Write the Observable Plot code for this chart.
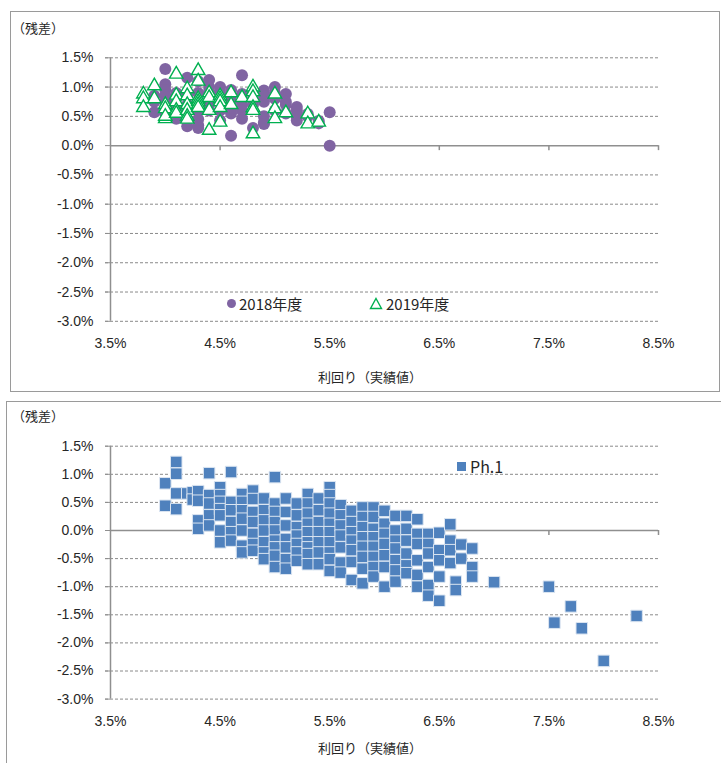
<!DOCTYPE html>
<html>
<head>
<meta charset="utf-8">
<script src="https://cdn.jsdelivr.net/npm/d3@7"></script>
<script src="https://cdn.jsdelivr.net/npm/@observablehq/plot@0.6"></script>
<style>
  body { margin: 0; background: #fff; }
  #wrap { position: relative; width: 721px; height: 763px; overflow: hidden; background: #fff; font-family: "Noto Sans CJK JP", "Noto Sans", sans-serif; color: #262626; }
  .panel { position: absolute; border: 1.5px solid #9a9a9a; box-sizing: border-box; }
  .abs { position: absolute; white-space: nowrap; }
  .chart { position: absolute; left: 0; }
  .ylab { font-size: 13px; }
  .xlab { font-size: 13px; transform: translateX(-50%); }
  .leg { font-size: 15px; display: flex; align-items: center; }
</style>
</head>
<body>
<div id="wrap">
  <div class="panel" style="left:10px;top:11px;width:710px;height:381px;"></div>
  <div class="panel" style="left:6px;top:401px;width:740px;height:400px;"></div>
  <div id="c1" class="chart" style="top:0px;"></div>
  <div id="c2" class="chart" style="top:390px;"></div>
  <div class="abs ylab" style="left:12px;top:18px;">（残差）</div>
  <div class="abs ylab" style="left:12px;top:406px;">（残差）</div>
  <div class="abs xlab" style="left:370px;top:367px;">利回り（実績値）</div>
  <div class="abs xlab" style="left:370px;top:738px;">利回り（実績値）</div>
  <div class="abs leg" style="left:226px;top:293px;">
    <svg width="11" height="11" style="margin-right:2px"><circle cx="5.5" cy="5.5" r="4.5" fill="#8064A2"/></svg><span>2018年度</span>
  </div>
  <div class="abs leg" style="left:369px;top:293px;">
    <svg width="14" height="13" style="margin-right:3px"><path d="M7,1.5 L12.5,11.5 L1.5,11.5 Z" fill="none" stroke="#00B050" stroke-width="1.4"/></svg><span>2019年度</span>
  </div>
  <div class="abs leg" style="left:456px;top:454px;font-size:16px;">
    <svg width="11" height="11" style="margin-right:3px"><rect x="1" y="1" width="9" height="9" fill="#4F81BD"/></svg><span>Ph.1</span>
  </div>
</div>
<script>
// ---- axis ticks ----
const xTicks = [3.5, 4.5, 5.5, 6.5, 7.5, 8.5];
const yTicks = [1.5, 1.0, 0.5, 0.0, -0.5, -1.0, -1.5, -2.0, -2.5, -3.0];

// ---- top chart: 2018年度 (columns of yield, residuals) ----
const yields2018 = [3.9, 4.0, 4.1, 4.2, 4.3, 4.4, 4.5, 4.6, 4.7, 4.8, 4.9, 5.0, 5.1, 5.2, 5.3, 5.4, 5.5];
const resid2018 = [
  [0.85, 0.57, 0.75],
  [1.31, 1.05, 0.95, 0.85, 0.75, 0.65, 0.55],
  [0.9, 0.8, 0.65, 0.55, 0.46],
  [1.16, 0.85, 0.7, 0.6, 0.45, 0.33],
  [1.1, 0.9, 0.75, 0.6, 0.45, 0.35, 0.3],
  [1.12, 1.0, 0.93, 0.8, 0.7, 0.6],
  [1.0, 0.9, 0.75, 0.6, 0.43],
  [0.95, 0.85, 0.75, 0.6, 0.55, 0.17],
  [1.2, 0.88, 0.7, 0.6, 0.46],
  [0.9, 0.8, 0.7, 0.3],
  [0.94, 0.85, 0.75, 0.5, 0.4, 0.37],
  [1.0, 0.9, 0.8, 0.6],
  [0.88, 0.75, 0.7, 0.55],
  [0.66, 0.6, 0.5, 0.43],
  [0.54, 0.5],
  [0.42, 0.38],
  [0.57, 0.0]
];

// ---- top chart: 2019年度 ----
const yields2019 = [3.8, 3.9, 4.0, 4.1, 4.2, 4.3, 4.4, 4.5, 4.6, 4.7, 4.8, 5.0, 5.1, 5.3, 5.4];
const resid2019 = [
  [0.88, 0.8, 0.65],
  [1.02, 0.8],
  [0.7, 0.63, 0.46, 0.5],
  [1.22, 0.86, 0.75, 0.6, 0.55],
  [0.97, 0.85, 0.7, 0.6, 0.5, 0.45],
  [1.28, 1.1, 0.8, 0.75, 0.7, 0.65],
  [0.9, 0.82, 0.6, 0.26],
  [0.85, 0.8, 0.75, 0.65, 0.4],
  [0.9, 0.7],
  [0.82],
  [1.0, 0.92, 0.82, 0.65, 0.6, 0.2],
  [0.88, 0.63, 0.46],
  [0.56],
  [0.54, 0.37],
  [0.4]
];

// ---- bottom chart: Ph.1 ----
const yieldsPh1 = [4.0, 4.1, 4.2, 4.25, 4.3, 4.4, 4.5, 4.6, 4.7, 4.8, 4.9, 5.0, 5.1, 5.2, 5.3, 5.4, 5.5, 5.6,
  5.7, 5.8, 5.9, 6.0, 6.1, 6.2, 6.3, 6.4, 6.5, 6.6, 6.65, 6.7, 6.8, 7.0, 7.5, 7.55, 7.7, 7.8, 8.0, 8.3];
const residPh1 = [
  [0.84, 0.44],
  [1.22, 1.01, 0.66, 0.38],
  [0.66],
  [0.68, 0.55],
  [0.7, 0.53, 0.18, 0.03],
  [1.02, 0.63, 0.48, 0.27, 0.09],
  [0.77, 0.63, 0.51, 0.38, 0.27, 0.0, -0.21],
  [1.04, 0.51, 0.36, 0.15, -0.03, -0.18],
  [0.65, 0.51, 0.36, 0.21, 0.0, -0.27, -0.39],
  [0.71, 0.56, 0.33, 0.15, -0.06, -0.24, -0.36],
  [0.57, 0.36, 0.18, 0.0, -0.21, -0.39, -0.51],
  [0.95, 0.48, 0.33, 0.15, 0.0, -0.18, -0.3, -0.45, -0.65],
  [0.57, 0.33, 0.09, -0.15, -0.3, -0.51, -0.68],
  [0.48, 0.27, 0.06, -0.09, -0.24, -0.39, -0.54],
  [0.65, 0.48, 0.3, 0.12, -0.03, -0.21, -0.3, -0.42, -0.6],
  [0.57, 0.36, 0.15, -0.03, -0.21, -0.39, -0.6],
  [0.77, 0.63, 0.48, 0.3, 0.12, -0.03, -0.21, -0.39, -0.51, -0.72],
  [0.45, 0.27, 0.09, -0.09, -0.3, -0.57, -0.75],
  [0.35, 0.15, -0.03, -0.18, -0.35, -0.56, -0.88],
  [0.41, 0.24, 0.06, -0.12, -0.29, -0.47, -0.68, -0.94],
  [0.41, 0.24, 0.03, -0.12, -0.29, -0.47, -0.65, -0.82],
  [0.35, 0.12, -0.06, -0.24, -0.44, -0.65, -1.0],
  [0.26, 0.0, -0.18, -0.32, -0.53, -0.71, -0.91],
  [0.26, 0.03, -0.18, -0.41, -0.62, -0.76],
  [0.2, -0.06, -0.24, -0.53, -0.79, -1.0],
  [-0.06, -0.24, -0.41, -0.65, -0.97, -1.16],
  [-0.04, -0.35, -0.53, -0.82, -1.25],
  [0.11, -0.18, -0.35, -0.58],
  [-0.91, -1.06],
  [-0.25, -0.5],
  [-0.32, -0.65, -0.82],
  [-0.92],
  [-1.0],
  [-1.64],
  [-1.35],
  [-1.74],
  [-2.32],
  [-1.52]
];

function flatten(xs, ys) {
  const out = [];
  xs.forEach((x, i) => ys[i].forEach(y => out.push({x, y})));
  return out;
}
const d2018 = flatten(yields2018, resid2018);
const d2019 = flatten(yields2019, resid2019);
const dPh1 = flatten(yieldsPh1, residPh1);

const pct = d => d.toFixed(1) + "%";
const axisColor = "#8f8f8f";

function frame(height, mTop, mBottom, tickPad, marks) {
  return Plot.plot({
    width: 721,
    height,
    marginTop: mTop,
    marginBottom: mBottom,
    marginLeft: 110,
    marginRight: 63,
    style: {background: "transparent", fontFamily: "'Liberation Sans', Arial, sans-serif", color: "#262626", overflow: "visible"},
    x: {domain: [3.5, 8.5]},
    y: {domain: [-3, 1.5]},
    marks: [
      Plot.gridY(yTicks.filter(d => d !== 0), {stroke: "#8a8a8a", strokeOpacity: 1, strokeDasharray: "3,2", insetLeft: -5}),
      Plot.axisY({ticks: yTicks, tickFormat: pct, tickSize: 5, tickPadding: 12, fontSize: 14, stroke: axisColor, label: null}),
      Plot.axisX({ticks: xTicks, tickFormat: pct, tickSize: 0, tickPadding: tickPad, fontSize: 14, label: null,
        fontFamily: "'Liberation Sans Narrow', 'Liberation Sans', sans-serif"}),
      Plot.ruleX([3.5], {stroke: axisColor, strokeWidth: 1.5}),
      Plot.ruleY([0], {stroke: axisColor, strokeWidth: 1.5}),
      Plot.ruleX(xTicks.slice(1), {x: d => d, y1: 0, y2: 0, insetBottom: -5, stroke: axisColor, strokeWidth: 1.5}),
      ...marks
    ]
  });
}

const topChart = frame(391, 57.3, 70.2, 17, [
  Plot.dot(d2018, {x: "x", y: "y", r: 6, fill: "#8064A2"}),
  Plot.dot(d2019, {x: "x", y: "y", symbol: "triangle", r: 5, fill: "white", stroke: "#00B050", strokeWidth: 1.4})
]);
document.getElementById("c1").appendChild(topChart);

const bottomChart = frame(373, 55.7, 64.4, 16.5, [
  Plot.dot(dPh1, {x: "x", y: "y", symbol: "square", r: 6.5, fill: "#4F81BD", stroke: "#dbe5f1", strokeWidth: 1})
]);
document.getElementById("c2").appendChild(bottomChart);
</script>
</body>
</html>
